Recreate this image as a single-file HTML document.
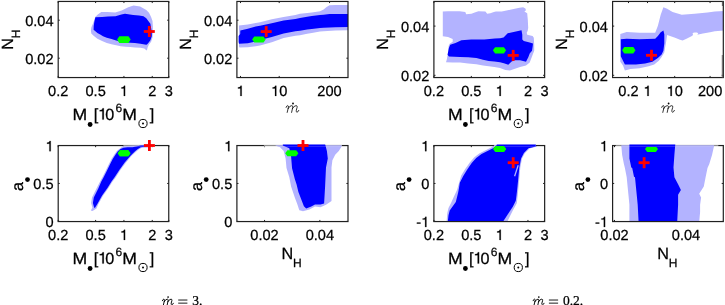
<!DOCTYPE html>
<html><head><meta charset="utf-8"><style>
html,body{margin:0;padding:0;background:#fff;width:725px;height:305px;overflow:hidden}
svg{display:block;will-change:transform;font-family:"Liberation Sans", sans-serif;font-size:14.6px;fill:#000;text-rendering:geometricPrecision}
text{stroke:#000;stroke-width:0.25px}
</style></head><body>
<svg width="725" height="305" viewBox="0 0 725 305">
<defs><clipPath id="c1"><rect x="58.20" y="1.45" width="110.55" height="76.10"/></clipPath><clipPath id="c2"><rect x="236.90" y="1.45" width="111.10" height="76.10"/></clipPath><clipPath id="c3"><rect x="433.90" y="1.45" width="110.75" height="76.10"/></clipPath><clipPath id="c4"><rect x="612.60" y="1.45" width="110.70" height="76.10"/></clipPath><clipPath id="c5"><rect x="58.20" y="145.55" width="110.55" height="76.00"/></clipPath><clipPath id="c6"><rect x="236.90" y="145.55" width="111.10" height="76.00"/></clipPath><clipPath id="c7"><rect x="433.90" y="145.55" width="110.75" height="76.00"/></clipPath><clipPath id="c8"><rect x="612.60" y="145.55" width="110.70" height="76.00"/></clipPath></defs>
<line x1="58.20" y1="77.55" x2="58.20" y2="75.95" stroke="#202020" stroke-width="1"/>
<line x1="58.20" y1="1.45" x2="58.20" y2="3.05" stroke="#202020" stroke-width="1"/>
<line x1="95.62" y1="77.55" x2="95.62" y2="75.95" stroke="#202020" stroke-width="1"/>
<line x1="95.62" y1="1.45" x2="95.62" y2="3.05" stroke="#202020" stroke-width="1"/>
<line x1="123.93" y1="77.55" x2="123.93" y2="75.95" stroke="#202020" stroke-width="1"/>
<line x1="123.93" y1="1.45" x2="123.93" y2="3.05" stroke="#202020" stroke-width="1"/>
<line x1="152.24" y1="77.55" x2="152.24" y2="75.95" stroke="#202020" stroke-width="1"/>
<line x1="152.24" y1="1.45" x2="152.24" y2="3.05" stroke="#202020" stroke-width="1"/>
<line x1="168.80" y1="77.55" x2="168.80" y2="75.95" stroke="#202020" stroke-width="1"/>
<line x1="168.80" y1="1.45" x2="168.80" y2="3.05" stroke="#202020" stroke-width="1"/>
<line x1="58.20" y1="58.20" x2="59.80" y2="58.20" stroke="#202020" stroke-width="1"/>
<line x1="168.75" y1="58.20" x2="167.15" y2="58.20" stroke="#202020" stroke-width="1"/>
<line x1="58.20" y1="20.20" x2="59.80" y2="20.20" stroke="#202020" stroke-width="1"/>
<line x1="168.75" y1="20.20" x2="167.15" y2="20.20" stroke="#202020" stroke-width="1"/>
<line x1="240.50" y1="77.55" x2="240.50" y2="75.95" stroke="#202020" stroke-width="1"/>
<line x1="240.50" y1="1.45" x2="240.50" y2="3.05" stroke="#202020" stroke-width="1"/>
<line x1="279.20" y1="77.55" x2="279.20" y2="75.95" stroke="#202020" stroke-width="1"/>
<line x1="279.20" y1="1.45" x2="279.20" y2="3.05" stroke="#202020" stroke-width="1"/>
<line x1="329.55" y1="77.55" x2="329.55" y2="75.95" stroke="#202020" stroke-width="1"/>
<line x1="329.55" y1="1.45" x2="329.55" y2="3.05" stroke="#202020" stroke-width="1"/>
<line x1="236.90" y1="58.20" x2="238.50" y2="58.20" stroke="#202020" stroke-width="1"/>
<line x1="348.00" y1="58.20" x2="346.40" y2="58.20" stroke="#202020" stroke-width="1"/>
<line x1="236.90" y1="20.20" x2="238.50" y2="20.20" stroke="#202020" stroke-width="1"/>
<line x1="348.00" y1="20.20" x2="346.40" y2="20.20" stroke="#202020" stroke-width="1"/>
<line x1="433.90" y1="77.55" x2="433.90" y2="75.95" stroke="#202020" stroke-width="1"/>
<line x1="433.90" y1="1.45" x2="433.90" y2="3.05" stroke="#202020" stroke-width="1"/>
<line x1="471.32" y1="77.55" x2="471.32" y2="75.95" stroke="#202020" stroke-width="1"/>
<line x1="471.32" y1="1.45" x2="471.32" y2="3.05" stroke="#202020" stroke-width="1"/>
<line x1="499.63" y1="77.55" x2="499.63" y2="75.95" stroke="#202020" stroke-width="1"/>
<line x1="499.63" y1="1.45" x2="499.63" y2="3.05" stroke="#202020" stroke-width="1"/>
<line x1="527.94" y1="77.55" x2="527.94" y2="75.95" stroke="#202020" stroke-width="1"/>
<line x1="527.94" y1="1.45" x2="527.94" y2="3.05" stroke="#202020" stroke-width="1"/>
<line x1="544.50" y1="77.55" x2="544.50" y2="75.95" stroke="#202020" stroke-width="1"/>
<line x1="544.50" y1="1.45" x2="544.50" y2="3.05" stroke="#202020" stroke-width="1"/>
<line x1="433.90" y1="75.30" x2="435.50" y2="75.30" stroke="#202020" stroke-width="1"/>
<line x1="544.65" y1="75.30" x2="543.05" y2="75.30" stroke="#202020" stroke-width="1"/>
<line x1="433.90" y1="26.10" x2="435.50" y2="26.10" stroke="#202020" stroke-width="1"/>
<line x1="544.65" y1="26.10" x2="543.05" y2="26.10" stroke="#202020" stroke-width="1"/>
<line x1="628.49" y1="77.55" x2="628.49" y2="75.95" stroke="#202020" stroke-width="1"/>
<line x1="628.49" y1="1.45" x2="628.49" y2="3.05" stroke="#202020" stroke-width="1"/>
<line x1="647.50" y1="77.55" x2="647.50" y2="75.95" stroke="#202020" stroke-width="1"/>
<line x1="647.50" y1="1.45" x2="647.50" y2="3.05" stroke="#202020" stroke-width="1"/>
<line x1="674.70" y1="77.55" x2="674.70" y2="75.95" stroke="#202020" stroke-width="1"/>
<line x1="674.70" y1="1.45" x2="674.70" y2="3.05" stroke="#202020" stroke-width="1"/>
<line x1="710.09" y1="77.55" x2="710.09" y2="75.95" stroke="#202020" stroke-width="1"/>
<line x1="710.09" y1="1.45" x2="710.09" y2="3.05" stroke="#202020" stroke-width="1"/>
<line x1="612.60" y1="75.30" x2="614.20" y2="75.30" stroke="#202020" stroke-width="1"/>
<line x1="723.30" y1="75.30" x2="721.70" y2="75.30" stroke="#202020" stroke-width="1"/>
<line x1="612.60" y1="26.10" x2="614.20" y2="26.10" stroke="#202020" stroke-width="1"/>
<line x1="723.30" y1="26.10" x2="721.70" y2="26.10" stroke="#202020" stroke-width="1"/>
<line x1="58.20" y1="221.55" x2="58.20" y2="219.95" stroke="#202020" stroke-width="1"/>
<line x1="58.20" y1="145.55" x2="58.20" y2="147.15" stroke="#202020" stroke-width="1"/>
<line x1="95.62" y1="221.55" x2="95.62" y2="219.95" stroke="#202020" stroke-width="1"/>
<line x1="95.62" y1="145.55" x2="95.62" y2="147.15" stroke="#202020" stroke-width="1"/>
<line x1="123.93" y1="221.55" x2="123.93" y2="219.95" stroke="#202020" stroke-width="1"/>
<line x1="123.93" y1="145.55" x2="123.93" y2="147.15" stroke="#202020" stroke-width="1"/>
<line x1="152.24" y1="221.55" x2="152.24" y2="219.95" stroke="#202020" stroke-width="1"/>
<line x1="152.24" y1="145.55" x2="152.24" y2="147.15" stroke="#202020" stroke-width="1"/>
<line x1="168.80" y1="221.55" x2="168.80" y2="219.95" stroke="#202020" stroke-width="1"/>
<line x1="168.80" y1="145.55" x2="168.80" y2="147.15" stroke="#202020" stroke-width="1"/>
<line x1="58.20" y1="221.40" x2="59.80" y2="221.40" stroke="#202020" stroke-width="1"/>
<line x1="168.75" y1="221.40" x2="167.15" y2="221.40" stroke="#202020" stroke-width="1"/>
<line x1="58.20" y1="183.45" x2="59.80" y2="183.45" stroke="#202020" stroke-width="1"/>
<line x1="168.75" y1="183.45" x2="167.15" y2="183.45" stroke="#202020" stroke-width="1"/>
<line x1="58.20" y1="145.50" x2="59.80" y2="145.50" stroke="#202020" stroke-width="1"/>
<line x1="168.75" y1="145.50" x2="167.15" y2="145.50" stroke="#202020" stroke-width="1"/>
<line x1="264.55" y1="221.55" x2="264.55" y2="219.95" stroke="#202020" stroke-width="1"/>
<line x1="264.55" y1="145.55" x2="264.55" y2="147.15" stroke="#202020" stroke-width="1"/>
<line x1="319.85" y1="221.55" x2="319.85" y2="219.95" stroke="#202020" stroke-width="1"/>
<line x1="319.85" y1="145.55" x2="319.85" y2="147.15" stroke="#202020" stroke-width="1"/>
<line x1="236.90" y1="221.40" x2="238.50" y2="221.40" stroke="#202020" stroke-width="1"/>
<line x1="348.00" y1="221.40" x2="346.40" y2="221.40" stroke="#202020" stroke-width="1"/>
<line x1="236.90" y1="183.45" x2="238.50" y2="183.45" stroke="#202020" stroke-width="1"/>
<line x1="348.00" y1="183.45" x2="346.40" y2="183.45" stroke="#202020" stroke-width="1"/>
<line x1="236.90" y1="145.50" x2="238.50" y2="145.50" stroke="#202020" stroke-width="1"/>
<line x1="348.00" y1="145.50" x2="346.40" y2="145.50" stroke="#202020" stroke-width="1"/>
<line x1="433.90" y1="221.55" x2="433.90" y2="219.95" stroke="#202020" stroke-width="1"/>
<line x1="433.90" y1="145.55" x2="433.90" y2="147.15" stroke="#202020" stroke-width="1"/>
<line x1="471.32" y1="221.55" x2="471.32" y2="219.95" stroke="#202020" stroke-width="1"/>
<line x1="471.32" y1="145.55" x2="471.32" y2="147.15" stroke="#202020" stroke-width="1"/>
<line x1="499.63" y1="221.55" x2="499.63" y2="219.95" stroke="#202020" stroke-width="1"/>
<line x1="499.63" y1="145.55" x2="499.63" y2="147.15" stroke="#202020" stroke-width="1"/>
<line x1="527.94" y1="221.55" x2="527.94" y2="219.95" stroke="#202020" stroke-width="1"/>
<line x1="527.94" y1="145.55" x2="527.94" y2="147.15" stroke="#202020" stroke-width="1"/>
<line x1="544.50" y1="221.55" x2="544.50" y2="219.95" stroke="#202020" stroke-width="1"/>
<line x1="544.50" y1="145.55" x2="544.50" y2="147.15" stroke="#202020" stroke-width="1"/>
<line x1="433.90" y1="221.40" x2="435.50" y2="221.40" stroke="#202020" stroke-width="1"/>
<line x1="544.65" y1="221.40" x2="543.05" y2="221.40" stroke="#202020" stroke-width="1"/>
<line x1="433.90" y1="183.45" x2="435.50" y2="183.45" stroke="#202020" stroke-width="1"/>
<line x1="544.65" y1="183.45" x2="543.05" y2="183.45" stroke="#202020" stroke-width="1"/>
<line x1="433.90" y1="145.50" x2="435.50" y2="145.50" stroke="#202020" stroke-width="1"/>
<line x1="544.65" y1="145.50" x2="543.05" y2="145.50" stroke="#202020" stroke-width="1"/>
<line x1="614.50" y1="221.55" x2="614.50" y2="219.95" stroke="#202020" stroke-width="1"/>
<line x1="614.50" y1="145.55" x2="614.50" y2="147.15" stroke="#202020" stroke-width="1"/>
<line x1="686.00" y1="221.55" x2="686.00" y2="219.95" stroke="#202020" stroke-width="1"/>
<line x1="686.00" y1="145.55" x2="686.00" y2="147.15" stroke="#202020" stroke-width="1"/>
<line x1="612.60" y1="221.40" x2="614.20" y2="221.40" stroke="#202020" stroke-width="1"/>
<line x1="723.30" y1="221.40" x2="721.70" y2="221.40" stroke="#202020" stroke-width="1"/>
<line x1="612.60" y1="183.45" x2="614.20" y2="183.45" stroke="#202020" stroke-width="1"/>
<line x1="723.30" y1="183.45" x2="721.70" y2="183.45" stroke="#202020" stroke-width="1"/>
<line x1="612.60" y1="145.50" x2="614.20" y2="145.50" stroke="#202020" stroke-width="1"/>
<line x1="723.30" y1="145.50" x2="721.70" y2="145.50" stroke="#202020" stroke-width="1"/>
<g clip-path="url(#c1)"><path d="M101.3,12.0 L107.3,12.1 L115.2,12.5 L121.7,10.5 L128.3,7.2 L133.5,5.5 L140.1,6.6 L146.3,10.0 L149.0,12.8 L151.1,16.9 L152.5,21.0 L152.9,26.6 L152.9,32.1 L152.5,37.6 L151.1,41.7 L149.0,44.5 L147.7,47.2 L147.0,50.0 L146.6,50.4 L144.3,48.5 L140.5,47.8 L134.9,47.4 L130.2,47.1 L125.5,46.8 L120.8,46.2 L116.1,45.2 L111.5,44.3 L106.8,42.9 L102.1,41.0 L97.4,38.7 L93.6,35.8 L91.3,33.5 L90.9,30.5 L91.3,27.4 L93.1,23.3 L95.4,16.8 L97.8,14.4Z" fill="#b3b3ff"/><path d="M95.4,17.3 L102.0,17.0 L108.0,16.6 L115.5,16.2 L121.4,14.4 L125.0,13.8 L133.2,15.0 L139.1,15.6 L143.5,16.2 L146.3,18.3 L148.3,21.0 L150.4,23.8 L151.1,27.9 L151.8,32.1 L151.8,36.2 L150.4,40.3 L148.3,43.1 L147.0,44.5 L146.2,44.8 L140.5,43.8 L134.9,43.1 L130.2,42.7 L125.5,42.4 L120.8,41.9 L116.1,40.5 L111.5,39.1 L106.8,37.7 L103.0,36.3 L100.2,34.4 L97.4,33.0 L93.6,29.8 L93.7,26.0 L94.3,22.0Z" fill="#0000ff"/><path d="M117.1,39.6 L119.3,36.3 L128.5,36.3 L130.7,39.6 L128.5,42.9 L119.3,42.9Z" fill="#00ff00"/></g>
<g clip-path="url(#c2)"><path d="M239.0,25.6 L247.8,24.4 L255.7,22.9 L260.0,22.2 L271.8,19.2 L283.6,16.9 L295.4,15.1 L300.0,13.8 L307.2,13.0 L311.8,12.4 L320.1,11.2 L323.6,9.4 L326.6,7.1 L329.5,5.3 L335.4,5.0 L349.0,5.0 L349.0,30.1 L335.4,30.5 L323.6,31.3 L320.0,31.4 L311.8,33.1 L307.2,33.8 L300.0,35.2 L295.4,35.8 L283.6,38.1 L271.8,42.2 L260.0,45.6 L255.7,46.3 L247.8,47.3 L239.5,47.5 L239.0,46.5Z" fill="#b3b3ff"/><path d="M240.3,30.6 L247.8,28.8 L255.7,26.6 L260.0,25.7 L271.8,23.3 L283.6,20.4 L295.4,19.0 L300.0,17.9 L307.2,16.8 L311.8,15.9 L320.0,15.1 L323.6,14.8 L329.5,13.9 L349.0,13.9 L349.0,26.9 L335.4,27.2 L323.6,27.7 L320.0,27.9 L311.8,28.9 L307.2,29.4 L300.0,30.7 L295.4,31.2 L283.6,33.4 L271.8,36.9 L260.0,39.9 L255.7,41.4 L247.8,43.3 L239.0,43.7 L238.6,42.0 L238.6,36.0 L240.2,34.0Z" fill="#0000ff"/><path d="M252.1,39.5 L254.3,36.4 L263.5,36.4 L265.7,39.5 L263.5,42.6 L254.3,42.6Z" fill="#00ff00"/></g>
<g clip-path="url(#c3)"><path d="M442.8,11.4 L447.8,11.2 L459.6,11.2 L465.3,11.9 L466.2,14.3 L471.4,13.8 L476.1,12.0 L478.5,11.2 L485.4,11.6 L487.2,13.8 L490.3,13.2 L493.9,12.0 L495.9,11.4 L501.8,11.4 L507.7,10.3 L513.6,9.1 L519.5,7.7 L523.1,7.3 L525.4,8.5 L526.0,10.3 L524.4,11.4 L527.2,13.2 L527.8,19.7 L528.2,27.8 L527.7,30.7 L526.7,32.7 L527.2,34.7 L532.6,36.1 L533.8,37.8 L534.2,44.8 L534.2,50.7 L532.0,56.6 L529.7,62.5 L526.0,65.4 L520.1,66.9 L514.2,69.1 L509.8,70.6 L505.4,69.9 L500.0,68.0 L494.4,67.1 L488.7,66.3 L483.0,65.5 L476.4,64.3 L468.2,63.4 L460.0,62.6 L452.7,62.5 L446.0,62.3 L446.8,59.5 L447.8,53.6 L448.7,45.7 L449.7,43.8 L452.7,41.8 L452.7,38.9 L448.0,37.0 L442.8,36.2Z" fill="#b3b3ff"/><path d="M450.2,44.8 L455.5,42.9 L461.4,40.2 L471.2,39.6 L484.4,39.5 L487.0,39.2 L494.9,38.6 L500.0,38.3 L503.5,37.5 L506.0,35.0 L507.7,33.3 L513.6,32.1 L521.5,30.2 L522.3,34.7 L522.3,39.6 L523.8,41.1 L529.7,42.5 L533.0,43.5 L532.7,46.2 L532.0,50.7 L529.7,53.6 L528.3,57.3 L526.0,61.7 L520.1,60.3 L514.2,60.3 L511.3,61.7 L508.3,64.7 L503.9,63.2 L500.0,62.2 L494.4,61.4 L488.7,61.0 L483.0,59.8 L476.4,58.1 L468.2,57.3 L460.0,56.9 L448.9,56.6 L447.6,54.7 L448.9,48.1Z" fill="#0000ff"/><path d="M492.9,50.3 L495.1,47.2 L503.9,47.2 L506.1,50.3 L503.9,53.4 L495.1,53.4Z" fill="#00ff00"/></g>
<g clip-path="url(#c4)"><path d="M620.3,34.0 L626.7,32.1 L639.5,32.7 L655.2,32.7 L657.9,25.7 L660.7,14.7 L663.4,7.3 L667.1,8.8 L672.6,11.9 L681.8,14.7 L694.6,13.8 L707.5,12.5 L714.8,11.6 L725.0,11.0 L725.0,30.3 L714.8,31.2 L710.0,32.2 L702.9,33.5 L698.3,34.6 L697.2,34.4 L698.3,33.4 L697.0,32.5 L694.5,32.4 L692.6,33.0 L693.0,34.4 L692.4,35.8 L686.5,38.8 L682.6,40.4 L680.0,39.8 L674.4,37.6 L667.1,34.9 L666.2,41.5 L665.2,47.0 L664.3,52.5 L661.6,57.1 L658.8,60.8 L654.2,64.5 L648.7,66.3 L639.5,68.2 L630.4,69.1 L624.9,70.5 L623.0,65.4 L620.3,61.7Z" fill="#b3b3ff"/><path d="M620.8,39.3 L626.7,38.8 L639.5,39.3 L655.2,38.8 L657.9,36.0 L660.7,32.3 L663.4,30.5 L664.3,34.2 L664.3,43.4 L663.4,50.7 L661.6,54.4 L657.9,58.1 L652.4,61.7 L645.1,63.6 L635.9,64.5 L630.4,64.5 L624.9,64.5 L623.0,60.8 L620.8,56.2Z" fill="#0000ff"/><path d="M622.1,50.3 L624.3,47.1 L633.3,47.1 L635.5,50.3 L633.3,53.5 L624.3,53.5Z" fill="#00ff00"/></g>
<g clip-path="url(#c5)"><path d="M92.4,207.8 L91.1,202.9 L92.0,197.4 L96.6,188.2 L100.2,181.2 L102.4,177.3 L105.3,171.4 L108.7,164.5 L111.6,158.8 L114.5,154.2 L116.8,150.9 L122.5,146.6 L127.0,145.9 L134.0,145.6 L141.0,145.1 L150.0,144.5 L150.0,147.5 L141.5,147.8 L138.3,149.8 L136.0,151.8 L131.4,156.1 L125.6,162.9 L120.4,170.1 L115.3,177.9 L112.4,181.8 L108.5,188.0 L103.0,195.8 L98.4,204.1 L96.5,208.6 L92.5,211.0 L90.8,210.5Z" fill="#b3b3ff"/><path d="M94.2,207.8 L92.9,202.9 L93.8,197.4 L98.4,188.2 L101.3,181.5 L103.5,177.6 L106.4,171.7 L109.8,164.8 L112.7,159.1 L115.6,154.5 L117.9,151.2 L120.5,149.0 L123.5,147.8 L127.5,147.3 L132.5,147.2 L136.2,146.4 L140.8,145.6 L147.0,145.4 L147.0,146.6 L140.8,147.2 L137.5,149.2 L135.1,151.2 L130.5,155.8 L124.7,162.6 L119.5,169.8 L114.4,177.6 L111.5,181.5 L107.6,187.7 L102.1,195.5 L97.5,203.8 L95.0,207.8Z" fill="#0000ff"/><path d="M117.7,153.2 L119.9,150.2 L128.3,150.2 L130.5,153.2 L128.3,156.2 L119.9,156.2Z" fill="#00ff00"/></g>
<g clip-path="url(#c6)"><path d="M275.5,144.0 L341.6,144.0 L341.6,146.4 L338.8,151.0 L335.2,154.7 L332.4,160.2 L331.5,167.5 L331.5,186.4 L331.5,201.0 L326.0,204.8 L320.5,207.2 L315.0,206.6 L309.4,209.4 L303.0,211.2 L299.3,210.3 L297.5,204.7 L294.8,197.4 L291.1,186.4 L289.3,177.2 L286.5,168.0 L285.6,158.4 L283.7,151.0 L280.1,147.3 L275.5,145.5Z" fill="#b3b3ff"/><path d="M282.8,144.0 L325.1,144.0 L326.9,151.0 L327.8,158.4 L326.0,167.5 L325.1,186.4 L324.1,203.6 L320.5,204.6 L315.0,204.6 L311.3,206.6 L306.2,208.5 L303.9,206.3 L301.2,199.2 L298.4,191.9 L296.6,184.5 L294.8,179.0 L292.0,168.0 L292.0,167.5 L291.1,156.5 L289.3,148.3 L282.8,145.5Z" fill="#0000ff"/><path d="M285.2,153.2 L287.4,150.2 L296.2,150.2 L298.4,153.2 L296.2,156.2 L287.4,156.2Z" fill="#00ff00"/></g>
<g clip-path="url(#c7)"><path d="M446.6,221.5 L447.3,212.9 L448.5,208.0 L450.9,203.2 L453.5,197.5 L457.0,189.9 L458.3,185.5 L461.2,175.5 L465.2,169.0 L469.8,162.4 L474.3,157.2 L479.6,153.2 L486.1,150.0 L490.6,147.8 L494.1,145.5 L495.1,143.3 L537.5,144.0 L537.0,146.4 L529.5,148.5 L525.0,153.0 L522.0,158.4 L520.3,167.5 L519.5,176.7 L518.6,185.9 L517.7,195.5 L516.8,203.2 L512.8,210.5 L509.2,217.8 L507.4,221.5Z" fill="#b3b3ff"/><path d="M447.8,221.5 L448.5,215.3 L449.7,210.5 L453.3,205.6 L455.8,202.0 L457.3,196.0 L458.2,192.3 L458.9,188.5 L459.8,182.8 L463.1,176.2 L467.1,169.7 L471.7,163.1 L476.2,157.9 L481.5,153.9 L488.0,150.7 L492.5,148.5 L496.0,146.2 L497.0,144.0 L535.8,144.0 L535.8,146.4 L528.5,148.3 L523.9,152.9 L521.1,158.4 L519.3,167.5 L518.4,177.2 L517.5,186.4 L516.5,195.5 L515.8,200.8 L512.8,206.8 L508.0,214.1 L503.1,221.5Z" fill="#0000ff"/><path d="M517.6,165.0 L518.8,165.5 L515.2,176.5 L514.0,176.0Z" fill="#b3b3ff"/><path d="M493.2,149.0 L495.4,146.1 L503.9,146.1 L506.1,149.0 L503.9,151.9 L495.4,151.9Z" fill="#00ff00"/></g>
<g clip-path="url(#c8)"><path d="M621.2,144.0 L714.5,144.0 L713.9,146.4 L712.1,154.7 L709.3,163.9 L707.5,168.0 L705.6,177.2 L703.8,186.4 L699.2,193.7 L701.1,197.4 L700.1,204.7 L700.1,212.1 L699.2,222.0 L629.4,222.0 L629.4,204.7 L628.5,195.5 L627.6,186.4 L626.7,177.2 L624.9,168.0 L623.9,163.9 L622.1,154.7Z" fill="#b3b3ff"/><path d="M629.4,144.0 L675.3,144.0 L674.4,154.7 L673.5,167.5 L674.4,177.2 L678.1,184.3 L680.9,190.0 L678.1,194.8 L678.1,204.7 L677.2,222.0 L638.6,222.0 L637.7,204.7 L636.8,195.5 L635.9,186.4 L635.0,177.2 L634.0,176.7 L632.2,168.0 L631.3,167.5 L629.4,158.4Z" fill="#0000ff"/><path d="M645.0,149.1 L647.2,146.2 L655.8,146.2 L658.0,149.1 L655.8,152.0 L647.2,152.0Z" fill="#00ff00"/></g>
<rect x="58.20" y="1.45" width="110.55" height="76.10" fill="none" stroke="#202020" stroke-width="1.2"/>
<text x="48.05" y="95.95" >0.2</text>
<text x="85.47" y="95.95" >0.5</text>
<path d="M125.11,95.95 L125.11,85.69 L124.03,85.69 L123.70,86.61 L123.16,87.12 L122.35,87.37 L121.35,87.45 L121.35,88.43 L123.78,88.43 L123.78,95.95Z" fill="#000" stroke="#000" stroke-width="0.2"/>
<text x="148.18" y="95.95" >2</text>
<text x="164.74" y="95.95" >3</text>
<text x="25.18" y="63.90" >0.02</text>
<text x="25.18" y="25.90" >0.04</text>
<g transform="translate(13.10,48.70) rotate(-90)"><text x="-1" y="0" font-size="16.2">N</text><text x="10.5" y="6.8" font-size="12">H</text></g>
<g transform="translate(73.70,119.60)"><text x="0" y="0" font-size="16.2" transform="translate(-1.1,0) scale(1.09,1)">M</text><circle cx="16.4" cy="4.9" r="2.4" fill="#000"/><text x="20.1" y="0" font-size="16.2">[</text><path d="M30.12,0.00 L30.12,-11.39 L28.92,-11.39 L28.54,-10.37 L27.95,-9.80 L27.05,-9.53 L25.94,-9.43 L25.94,-8.34 L28.64,-8.34 L28.64,0.00Z" fill="#000" stroke="#000" stroke-width="0.2"/><text x="31.6" y="0" font-size="16.2">0</text><text x="41.7" y="-7.8" font-size="12">6</text><text x="0" y="0" font-size="16.2" transform="translate(48.6,0) scale(1.09,1)">M</text><circle cx="69.3" cy="3.9" r="4.1" fill="none" stroke="#000" stroke-width="1"/><circle cx="69.3" cy="3.9" r="1.0" fill="#000"/><text x="76.0" y="0" font-size="16.2">]</text></g>
<rect x="236.90" y="1.45" width="111.10" height="76.10" fill="none" stroke="#202020" stroke-width="1.2"/>
<path d="M241.68,95.95 L241.68,85.69 L240.60,85.69 L240.27,86.61 L239.73,87.12 L238.92,87.37 L237.91,87.45 L237.91,88.43 L240.35,88.43 L240.35,95.95Z" fill="#000" stroke="#000" stroke-width="0.2"/>
<path d="M276.32,95.95 L276.32,85.69 L275.24,85.69 L274.91,86.61 L274.37,87.12 L273.56,87.37 L272.55,87.45 L272.55,88.43 L274.99,88.43 L274.99,95.95Z" fill="#000" stroke="#000" stroke-width="0.2"/>
<text x="279.20" y="95.95" >0</text>
<text x="317.37" y="95.95" >200</text>
<text x="203.88" y="63.90" >0.02</text>
<text x="203.88" y="25.90" >0.04</text>
<g transform="translate(191.40,48.70) rotate(-90)"><text x="-1" y="0" font-size="16.2">N</text><text x="10.5" y="6.8" font-size="12">H</text></g>
<g transform="translate(285.60,112.40)"><path d="M0.5,-5.0 Q1.1,-6.9 2.2,-6.8 Q3.2,-6.6 2.8,-5.0 L1.6,0 M2.5,-3.8 Q4.2,-6.9 6.2,-6.8 Q7.6,-6.6 7.1,-5.0 L6.0,0 M6.8,-3.8 Q8.6,-6.9 10.6,-6.8 Q12.0,-6.6 11.5,-5.0 L10.7,-2.2 Q10.3,-0.3 11.3,-0.2 Q12.4,-0.1 13.2,-2.0" transform="scale(1.0)" fill="none" stroke="#000" stroke-width="0.800" stroke-linecap="round" stroke-linejoin="round"/><circle cx="7.4" cy="-8.9" r="0.9" fill="#000"/></g>
<rect x="433.90" y="1.45" width="110.75" height="76.10" fill="none" stroke="#202020" stroke-width="1.2"/>
<text x="423.75" y="95.95" >0.2</text>
<text x="461.17" y="95.95" >0.5</text>
<path d="M500.81,95.95 L500.81,85.69 L499.73,85.69 L499.40,86.61 L498.86,87.12 L498.05,87.37 L497.05,87.45 L497.05,88.43 L499.48,88.43 L499.48,95.95Z" fill="#000" stroke="#000" stroke-width="0.2"/>
<text x="523.88" y="95.95" >2</text>
<text x="540.44" y="95.95" >3</text>
<text x="400.88" y="81.00" >0.02</text>
<text x="400.88" y="31.80" >0.04</text>
<g transform="translate(388.30,48.70) rotate(-90)"><text x="-1" y="0" font-size="16.2">N</text><text x="10.5" y="6.8" font-size="12">H</text></g>
<g transform="translate(449.00,119.60)"><text x="0" y="0" font-size="16.2" transform="translate(-1.1,0) scale(1.09,1)">M</text><circle cx="16.4" cy="4.9" r="2.4" fill="#000"/><text x="20.1" y="0" font-size="16.2">[</text><path d="M30.12,0.00 L30.12,-11.39 L28.92,-11.39 L28.54,-10.37 L27.95,-9.80 L27.05,-9.53 L25.94,-9.43 L25.94,-8.34 L28.64,-8.34 L28.64,0.00Z" fill="#000" stroke="#000" stroke-width="0.2"/><text x="31.6" y="0" font-size="16.2">0</text><text x="41.7" y="-7.8" font-size="12">6</text><text x="0" y="0" font-size="16.2" transform="translate(48.6,0) scale(1.09,1)">M</text><circle cx="69.3" cy="3.9" r="4.1" fill="none" stroke="#000" stroke-width="1"/><circle cx="69.3" cy="3.9" r="1.0" fill="#000"/><text x="76.0" y="0" font-size="16.2">]</text></g>
<rect x="612.60" y="1.45" width="110.70" height="76.10" fill="none" stroke="#202020" stroke-width="1.2"/>
<text x="618.34" y="95.95" >0.2</text>
<path d="M648.68,95.95 L648.68,85.69 L647.60,85.69 L647.27,86.61 L646.73,87.12 L645.92,87.37 L644.91,87.45 L644.91,88.43 L647.35,88.43 L647.35,95.95Z" fill="#000" stroke="#000" stroke-width="0.2"/>
<path d="M671.82,95.95 L671.82,85.69 L670.74,85.69 L670.41,86.61 L669.87,87.12 L669.06,87.37 L668.05,87.45 L668.05,88.43 L670.49,88.43 L670.49,95.95Z" fill="#000" stroke="#000" stroke-width="0.2"/>
<text x="674.70" y="95.95" >0</text>
<text x="697.91" y="95.95" >200</text>
<text x="579.58" y="81.00" >0.02</text>
<text x="579.58" y="31.80" >0.04</text>
<g transform="translate(566.90,48.70) rotate(-90)"><text x="-1" y="0" font-size="16.2">N</text><text x="10.5" y="6.8" font-size="12">H</text></g>
<g transform="translate(661.20,112.40)"><path d="M0.5,-5.0 Q1.1,-6.9 2.2,-6.8 Q3.2,-6.6 2.8,-5.0 L1.6,0 M2.5,-3.8 Q4.2,-6.9 6.2,-6.8 Q7.6,-6.6 7.1,-5.0 L6.0,0 M6.8,-3.8 Q8.6,-6.9 10.6,-6.8 Q12.0,-6.6 11.5,-5.0 L10.7,-2.2 Q10.3,-0.3 11.3,-0.2 Q12.4,-0.1 13.2,-2.0" transform="scale(1.0)" fill="none" stroke="#000" stroke-width="0.800" stroke-linecap="round" stroke-linejoin="round"/><circle cx="7.4" cy="-8.9" r="0.9" fill="#000"/></g>
<rect x="58.20" y="145.55" width="110.55" height="76.00" fill="none" stroke="#202020" stroke-width="1.2"/>
<text x="48.05" y="239.95" >0.2</text>
<text x="85.47" y="239.95" >0.5</text>
<path d="M125.11,239.95 L125.11,229.69 L124.03,229.69 L123.70,230.61 L123.16,231.12 L122.35,231.37 L121.35,231.45 L121.35,232.43 L123.78,232.43 L123.78,239.95Z" fill="#000" stroke="#000" stroke-width="0.2"/>
<text x="148.18" y="239.95" >2</text>
<text x="164.74" y="239.95" >3</text>
<text x="45.48" y="227.10" >0</text>
<text x="33.30" y="189.15" >0.5</text>
<path d="M50.72,151.20 L50.72,140.94 L49.64,140.94 L49.31,141.86 L48.77,142.37 L47.96,142.62 L46.95,142.70 L46.95,143.68 L49.39,143.68 L49.39,151.20Z" fill="#000" stroke="#000" stroke-width="0.2"/>
<g transform="translate(23.20,190.10) rotate(-90)"><text x="-1" y="0" font-size="16.2">a</text><circle cx="10.5" cy="4.3" r="2.4" fill="#000"/></g>
<g transform="translate(73.70,263.60)"><text x="0" y="0" font-size="16.2" transform="translate(-1.1,0) scale(1.09,1)">M</text><circle cx="16.4" cy="4.9" r="2.4" fill="#000"/><text x="20.1" y="0" font-size="16.2">[</text><path d="M30.12,0.00 L30.12,-11.39 L28.92,-11.39 L28.54,-10.37 L27.95,-9.80 L27.05,-9.53 L25.94,-9.43 L25.94,-8.34 L28.64,-8.34 L28.64,0.00Z" fill="#000" stroke="#000" stroke-width="0.2"/><text x="31.6" y="0" font-size="16.2">0</text><text x="41.7" y="-7.8" font-size="12">6</text><text x="0" y="0" font-size="16.2" transform="translate(48.6,0) scale(1.09,1)">M</text><circle cx="69.3" cy="3.9" r="4.1" fill="none" stroke="#000" stroke-width="1"/><circle cx="69.3" cy="3.9" r="1.0" fill="#000"/><text x="76.0" y="0" font-size="16.2">]</text></g>
<rect x="236.90" y="145.55" width="111.10" height="76.00" fill="none" stroke="#202020" stroke-width="1.2"/>
<text x="250.34" y="239.95" >0.02</text>
<text x="305.64" y="239.95" >0.04</text>
<text x="224.18" y="227.10" >0</text>
<text x="212.00" y="189.15" >0.5</text>
<path d="M229.42,151.20 L229.42,140.94 L228.34,140.94 L228.01,141.86 L227.47,142.37 L226.66,142.62 L225.65,142.70 L225.65,143.68 L228.09,143.68 L228.09,151.20Z" fill="#000" stroke="#000" stroke-width="0.2"/>
<g transform="translate(201.90,190.10) rotate(-90)"><text x="-1" y="0" font-size="16.2">a</text><circle cx="10.5" cy="4.3" r="2.4" fill="#000"/></g>
<g transform="translate(282.40,258.80)"><text x="-1" y="0" font-size="16.2">N</text><text x="10.5" y="7.8" font-size="12">H</text></g>
<rect x="433.90" y="145.55" width="110.75" height="76.00" fill="none" stroke="#202020" stroke-width="1.2"/>
<text x="423.75" y="239.95" >0.2</text>
<text x="461.17" y="239.95" >0.5</text>
<path d="M500.81,239.95 L500.81,229.69 L499.73,229.69 L499.40,230.61 L498.86,231.12 L498.05,231.37 L497.05,231.45 L497.05,232.43 L499.48,232.43 L499.48,239.95Z" fill="#000" stroke="#000" stroke-width="0.2"/>
<text x="523.88" y="239.95" >2</text>
<text x="540.44" y="239.95" >3</text>
<text x="416.32" y="227.10" >-</text>
<path d="M426.42,227.10 L426.42,216.84 L425.34,216.84 L425.01,217.76 L424.47,218.27 L423.66,218.52 L422.65,218.60 L422.65,219.58 L425.09,219.58 L425.09,227.10Z" fill="#000" stroke="#000" stroke-width="0.2"/>
<text x="421.18" y="189.15" >0</text>
<path d="M426.42,151.20 L426.42,140.94 L425.34,140.94 L425.01,141.86 L424.47,142.37 L423.66,142.62 L422.65,142.70 L422.65,143.68 L425.09,143.68 L425.09,151.20Z" fill="#000" stroke="#000" stroke-width="0.2"/>
<g transform="translate(404.80,190.10) rotate(-90)"><text x="-1" y="0" font-size="16.2">a</text><circle cx="10.5" cy="4.3" r="2.4" fill="#000"/></g>
<g transform="translate(449.00,263.60)"><text x="0" y="0" font-size="16.2" transform="translate(-1.1,0) scale(1.09,1)">M</text><circle cx="16.4" cy="4.9" r="2.4" fill="#000"/><text x="20.1" y="0" font-size="16.2">[</text><path d="M30.12,0.00 L30.12,-11.39 L28.92,-11.39 L28.54,-10.37 L27.95,-9.80 L27.05,-9.53 L25.94,-9.43 L25.94,-8.34 L28.64,-8.34 L28.64,0.00Z" fill="#000" stroke="#000" stroke-width="0.2"/><text x="31.6" y="0" font-size="16.2">0</text><text x="41.7" y="-7.8" font-size="12">6</text><text x="0" y="0" font-size="16.2" transform="translate(48.6,0) scale(1.09,1)">M</text><circle cx="69.3" cy="3.9" r="4.1" fill="none" stroke="#000" stroke-width="1"/><circle cx="69.3" cy="3.9" r="1.0" fill="#000"/><text x="76.0" y="0" font-size="16.2">]</text></g>
<rect x="612.60" y="145.55" width="110.70" height="76.00" fill="none" stroke="#202020" stroke-width="1.2"/>
<text x="600.29" y="239.95" >0.02</text>
<text x="671.79" y="239.95" >0.04</text>
<text x="595.02" y="227.10" >-</text>
<path d="M605.12,227.10 L605.12,216.84 L604.04,216.84 L603.71,217.76 L603.17,218.27 L602.36,218.52 L601.35,218.60 L601.35,219.58 L603.79,219.58 L603.79,227.10Z" fill="#000" stroke="#000" stroke-width="0.2"/>
<text x="599.88" y="189.15" >0</text>
<path d="M605.12,151.20 L605.12,140.94 L604.04,140.94 L603.71,141.86 L603.17,142.37 L602.36,142.62 L601.35,142.70 L601.35,143.68 L603.79,143.68 L603.79,151.20Z" fill="#000" stroke="#000" stroke-width="0.2"/>
<g transform="translate(583.60,190.10) rotate(-90)"><text x="-1" y="0" font-size="16.2">a</text><circle cx="10.5" cy="4.3" r="2.4" fill="#000"/></g>
<g transform="translate(658.20,258.80)"><text x="-1" y="0" font-size="16.2">N</text><text x="10.5" y="7.8" font-size="12">H</text></g>
<clipPath id="sc123"><rect x="123.20" y="145.35" width="31.80" height="1.3"/></clipPath><clipPath id="scd123"><rect x="123.20" y="144.45" width="31.80" height="2.2"/></clipPath><g clip-path="url(#sc123)"><rect x="123.20" y="145.35" width="31.80" height="1.3" fill="#fff"/><path d="M92.4,207.8 L91.1,202.9 L92.0,197.4 L96.6,188.2 L100.2,181.2 L102.4,177.3 L105.3,171.4 L108.7,164.5 L111.6,158.8 L114.5,154.2 L116.8,150.9 L122.5,146.6 L127.0,145.9 L134.0,145.6 L141.0,145.1 L150.0,144.5 L150.0,147.5 L141.5,147.8 L138.3,149.8 L136.0,151.8 L131.4,156.1 L125.6,162.9 L120.4,170.1 L115.3,177.9 L112.4,181.8 L108.5,188.0 L103.0,195.8 L98.4,204.1 L96.5,208.6 L92.5,211.0 L90.8,210.5Z" fill="#b3b3ff"/></g><g clip-path="url(#scd123)"><path d="M94.2,207.8 L92.9,202.9 L93.8,197.4 L98.4,188.2 L101.3,181.5 L103.5,177.6 L106.4,171.7 L109.8,164.8 L112.7,159.1 L115.6,154.5 L117.9,151.2 L120.5,149.0 L123.5,147.8 L127.5,147.3 L132.5,147.2 L136.2,146.4 L140.8,145.6 L147.0,145.4 L147.0,146.6 L140.8,147.2 L137.5,149.2 L135.1,151.2 L130.5,155.8 L124.7,162.6 L119.5,169.8 L114.4,177.6 L111.5,181.5 L107.6,187.7 L102.1,195.5 L97.5,203.8 L95.0,207.8Z" fill="#0000ff"/></g><path d="M117.7,153.2 L119.9,150.2 L128.3,150.2 L130.5,153.2 L128.3,156.2 L119.9,156.2Z" fill="#00ff00"/>
<clipPath id="sc263"><rect x="263.70" y="145.35" width="78.30" height="1.3"/></clipPath><clipPath id="scd263"><rect x="263.70" y="144.45" width="78.30" height="2.2"/></clipPath><g clip-path="url(#sc263)"><rect x="263.70" y="145.35" width="78.30" height="1.3" fill="#fff"/><path d="M275.5,144.0 L341.6,144.0 L341.6,146.4 L338.8,151.0 L335.2,154.7 L332.4,160.2 L331.5,167.5 L331.5,186.4 L331.5,201.0 L326.0,204.8 L320.5,207.2 L315.0,206.6 L309.4,209.4 L303.0,211.2 L299.3,210.3 L297.5,204.7 L294.8,197.4 L291.1,186.4 L289.3,177.2 L286.5,168.0 L285.6,158.4 L283.7,151.0 L280.1,147.3 L275.5,145.5Z" fill="#b3b3ff"/></g><g clip-path="url(#scd263)"><path d="M282.8,144.0 L325.1,144.0 L326.9,151.0 L327.8,158.4 L326.0,167.5 L325.1,186.4 L324.1,203.6 L320.5,204.6 L315.0,204.6 L311.3,206.6 L306.2,208.5 L303.9,206.3 L301.2,199.2 L298.4,191.9 L296.6,184.5 L294.8,179.0 L292.0,168.0 L292.0,167.5 L291.1,156.5 L289.3,148.3 L282.8,145.5Z" fill="#0000ff"/></g>
<clipPath id="sc493"><rect x="493.70" y="145.35" width="42.30" height="1.3"/></clipPath><clipPath id="scd493"><rect x="493.70" y="144.45" width="42.30" height="2.2"/></clipPath><g clip-path="url(#sc493)"><rect x="493.70" y="145.35" width="42.30" height="1.3" fill="#fff"/><path d="M446.6,221.5 L447.3,212.9 L448.5,208.0 L450.9,203.2 L453.5,197.5 L457.0,189.9 L458.3,185.5 L461.2,175.5 L465.2,169.0 L469.8,162.4 L474.3,157.2 L479.6,153.2 L486.1,150.0 L490.6,147.8 L494.1,145.5 L495.1,143.3 L537.5,144.0 L537.0,146.4 L529.5,148.5 L525.0,153.0 L522.0,158.4 L520.3,167.5 L519.5,176.7 L518.6,185.9 L517.7,195.5 L516.8,203.2 L512.8,210.5 L509.2,217.8 L507.4,221.5Z" fill="#b3b3ff"/></g><g clip-path="url(#scd493)"><path d="M447.8,221.5 L448.5,215.3 L449.7,210.5 L453.3,205.6 L455.8,202.0 L457.3,196.0 L458.2,192.3 L458.9,188.5 L459.8,182.8 L463.1,176.2 L467.1,169.7 L471.7,163.1 L476.2,157.9 L481.5,153.9 L488.0,150.7 L492.5,148.5 L496.0,146.2 L497.0,144.0 L535.8,144.0 L535.8,146.4 L528.5,148.3 L523.9,152.9 L521.1,158.4 L519.3,167.5 L518.4,177.2 L517.5,186.4 L516.5,195.5 L515.8,200.8 L512.8,206.8 L508.0,214.1 L503.1,221.5Z" fill="#0000ff"/></g><path d="M493.2,149.0 L495.4,146.1 L503.9,146.1 L506.1,149.0 L503.9,151.9 L495.4,151.9Z" fill="#00ff00"/>
<clipPath id="sc615"><rect x="615.50" y="145.35" width="103.10" height="1.3"/></clipPath><clipPath id="scd615"><rect x="615.50" y="144.45" width="103.10" height="2.2"/></clipPath><g clip-path="url(#sc615)"><rect x="615.50" y="145.35" width="103.10" height="1.3" fill="#fff"/><path d="M621.2,144.0 L714.5,144.0 L713.9,146.4 L712.1,154.7 L709.3,163.9 L707.5,168.0 L705.6,177.2 L703.8,186.4 L699.2,193.7 L701.1,197.4 L700.1,204.7 L700.1,212.1 L699.2,222.0 L629.4,222.0 L629.4,204.7 L628.5,195.5 L627.6,186.4 L626.7,177.2 L624.9,168.0 L623.9,163.9 L622.1,154.7Z" fill="#b3b3ff"/></g><g clip-path="url(#scd615)"><path d="M629.4,144.0 L675.3,144.0 L674.4,154.7 L673.5,167.5 L674.4,177.2 L678.1,184.3 L680.9,190.0 L678.1,194.8 L678.1,204.7 L677.2,222.0 L638.6,222.0 L637.7,204.7 L636.8,195.5 L635.9,186.4 L635.0,177.2 L634.0,176.7 L632.2,168.0 L631.3,167.5 L629.4,158.4Z" fill="#0000ff"/></g>
<line x1="722.3" y1="55" x2="722.3" y2="77.5" stroke="#666" stroke-width="1"/>
<line x1="722.4" y1="1.5" x2="722.4" y2="6" stroke="#555" stroke-width="1"/>
<rect x="143.80" y="30.10" width="11.00" height="2.80" fill="#ff0000"/><rect x="147.90" y="26.00" width="2.80" height="11.00" fill="#ff0000"/>
<rect x="260.70" y="30.20" width="11.00" height="2.80" fill="#ff0000"/><rect x="264.80" y="26.10" width="2.80" height="11.00" fill="#ff0000"/>
<rect x="507.70" y="54.00" width="11.00" height="2.80" fill="#ff0000"/><rect x="511.80" y="49.90" width="2.80" height="11.00" fill="#ff0000"/>
<rect x="646.00" y="53.90" width="11.00" height="2.80" fill="#ff0000"/><rect x="650.10" y="49.80" width="2.80" height="11.00" fill="#ff0000"/>
<rect x="143.90" y="144.10" width="11.00" height="2.80" fill="#ff0000"/><rect x="148.00" y="140.00" width="2.80" height="11.00" fill="#ff0000"/>
<rect x="297.50" y="144.10" width="11.00" height="2.80" fill="#ff0000"/><rect x="301.60" y="140.00" width="2.80" height="11.00" fill="#ff0000"/>
<rect x="507.70" y="161.30" width="11.00" height="2.80" fill="#ff0000"/><rect x="511.80" y="157.20" width="2.80" height="11.00" fill="#ff0000"/>
<rect x="638.60" y="161.30" width="11.00" height="2.80" fill="#ff0000"/><rect x="642.70" y="157.20" width="2.80" height="11.00" fill="#ff0000"/>
<g transform="translate(162.00,305.0)"><path d="M0.5,-5.0 Q1.1,-6.9 2.2,-6.8 Q3.2,-6.6 2.8,-5.0 L1.6,0 M2.5,-3.8 Q4.2,-6.9 6.2,-6.8 Q7.6,-6.6 7.1,-5.0 L6.0,0 M6.8,-3.8 Q8.6,-6.9 10.6,-6.8 Q12.0,-6.6 11.5,-5.0 L10.7,-2.2 Q10.3,-0.3 11.3,-0.2 Q12.4,-0.1 13.2,-2.0" transform="scale(0.86)" fill="none" stroke="#000" stroke-width="1.105" stroke-linecap="round" stroke-linejoin="round"/><circle cx="6.1" cy="-8.0" r="0.85" fill="#000"/><rect x="16.2" y="-5.45" width="9.2" height="0.95" fill="#111"/><rect x="16.2" y="-2.35" width="9.2" height="0.95" fill="#111"/><text x="30.3" y="0" font-size="13.5" font-family="Liberation Serif, serif">3.</text></g>
<g transform="translate(532.70,305.0)"><path d="M0.5,-5.0 Q1.1,-6.9 2.2,-6.8 Q3.2,-6.6 2.8,-5.0 L1.6,0 M2.5,-3.8 Q4.2,-6.9 6.2,-6.8 Q7.6,-6.6 7.1,-5.0 L6.0,0 M6.8,-3.8 Q8.6,-6.9 10.6,-6.8 Q12.0,-6.6 11.5,-5.0 L10.7,-2.2 Q10.3,-0.3 11.3,-0.2 Q12.4,-0.1 13.2,-2.0" transform="scale(0.86)" fill="none" stroke="#000" stroke-width="1.105" stroke-linecap="round" stroke-linejoin="round"/><circle cx="6.1" cy="-8.0" r="0.85" fill="#000"/><rect x="16.2" y="-5.45" width="9.2" height="0.95" fill="#111"/><rect x="16.2" y="-2.35" width="9.2" height="0.95" fill="#111"/><text x="30.3" y="0" font-size="13.5" font-family="Liberation Serif, serif">0.2.</text></g>
</svg>
</body></html>
